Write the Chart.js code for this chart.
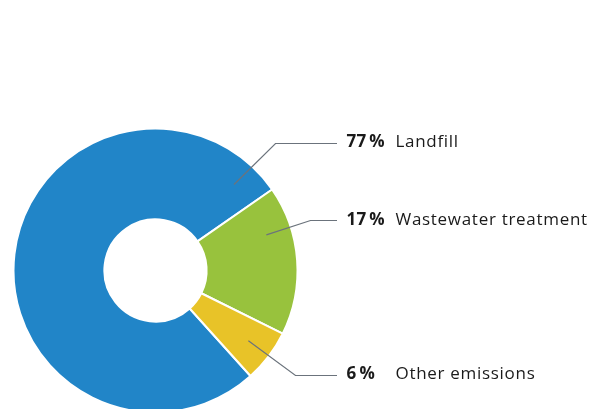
<!DOCTYPE html>
<html>
<head>
<meta charset="utf-8">
<script src="https://cdn.jsdelivr.net/npm/chart.js@4"></script>
<style>
  html, body { margin: 0; padding: 0; background: #fff; overflow: hidden; }
  #wrap { width: 596px; height: 409px; position: relative; }
</style>
</head>
<body>
<div id="wrap"><canvas id="chart"></canvas></div>
<script>
const labels = ["Landfill", "Wastewater treatment", "Other emissions"];
const shares = [77, 17, 6];
const colors = ["#2185c8", "#98c23d", "#e8c328"];

// leader lines: anchor inside slice (angle deg, radius factor), elbow offset from centre
const leaders = [
  { angle: -47.6, r: 0.82, elbow: [120, -128], textY: 146.5 },
  { angle: -17.8, r: 0.82, elbow: [155, -51], textY: 224.5 },
  { angle: 37.1, r: 0.82, elbow: [140, 104], textY: 379 },
];

const leaderPlugin = {
  id: "leaders",
  afterDatasetsDraw(chart) {
    const ctx = chart.ctx;
    const arc = chart.getDatasetMeta(0).data[0];
    const cx = arc.x, cy = arc.y, R = arc.outerRadius;
    ctx.save();
    leaders.forEach((l, i) => {
      const a = (l.angle * Math.PI) / 180;
      const ax = cx + Math.cos(a) * R * l.r;
      const ay = cy + Math.sin(a) * R * l.r;
      const ex = cx + l.elbow[0];
      const ey = Math.round(cy + l.elbow[1]) + 0.5;
      ctx.beginPath();
      ctx.moveTo(ax, ay);
      ctx.lineTo(ex, ey);
      ctx.lineTo(337, ey);
      ctx.strokeStyle = "#6b737c";
      ctx.lineWidth = 1.2;
      ctx.stroke();

      ctx.fillStyle = "#1a1a1a";
      ctx.textBaseline = "alphabetic";
      ctx.textAlign = "left";
      ctx.letterSpacing = "0.2px";
      ctx.font = "bold 17px 'Open Sans'";
      ctx.fillText(shares[i] + "\u2009%", 346.5, l.textY);
      ctx.letterSpacing = "0.7px";
      ctx.font = "17px 'Open Sans'";
      ctx.fillText(labels[i], 395.5, l.textY);
    });
    ctx.restore();
  },
};

new Chart(document.getElementById("chart"), {
  type: "doughnut",
  data: {
    labels: labels,
    datasets: [
      {
        data: shares,
        backgroundColor: colors,
        borderColor: "#ffffff",
        borderWidth: 2,
        clip: false,
      },
    ],
  },
  options: {
    responsive: true,
    maintainAspectRatio: false,
    animation: false,
    rotation: 138,
    radius: 142,
    cutout: "36%",
    layout: { padding: { left: 13, top: 132, right: 298, bottom: 0 } },
    plugins: {
      legend: { display: false },
      tooltip: { enabled: false },
    },
  },
  plugins: [leaderPlugin],
});
</script>
</body>
</html>
